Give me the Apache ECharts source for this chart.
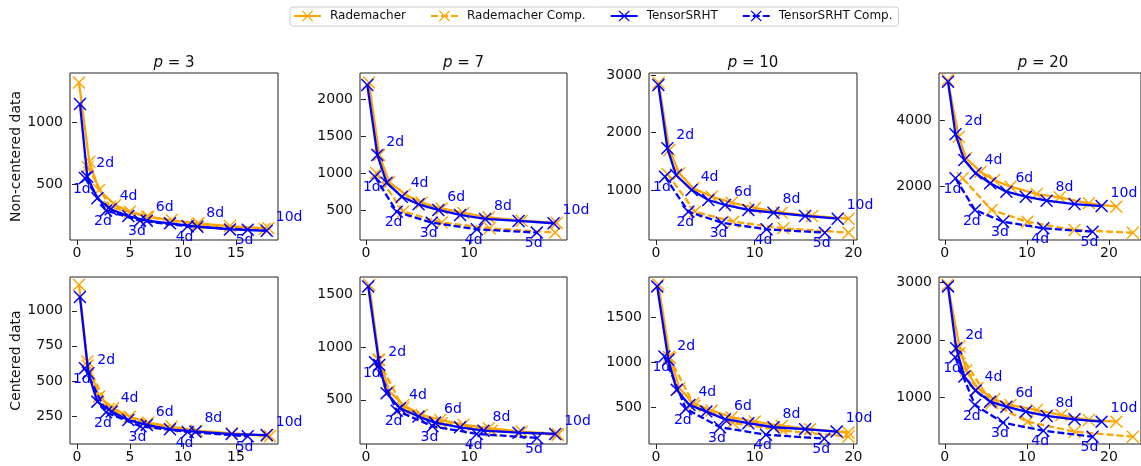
<!DOCTYPE html>
<html><head><meta charset="utf-8">
<script src="https://cdn.jsdelivr.net/npm/echarts@6/dist/echarts.min.js"></script>
<style>html,body{margin:0;padding:0;background:#fff}#c{width:1141px;height:466px}</style>
</head><body><div id="c"></div>
<script>
// ---------------- DATA ([x, y] pairs) ----------------
const SERIES_NAMES = ['Rademacher', 'Rademacher Comp.', 'TensorSRHT', 'TensorSRHT Comp.'];
const P_VALUES = ['3', '7', '10', '20'];
const ROW_NAMES = ['Non-centered data', 'Centered data'];

// Row 1: non-centered
const NC_P3_RAD   = [[0.19,1324],[1.16,683],[2.08,453],[3.6,332],[4.99,278],[6.73,237],[8.93,210],[11.45,183],[14.43,161],[18.05,143]];
const NC_P3_RADC  = [[1.0,640],[3.1,317],[6.6,237],[11.3,172],[17.7,137]];
const NC_P3_TS    = [[0.28,1151],[0.97,561],[1.92,386],[3.18,297],[4.84,242],[6.58,205],[8.77,183],[11.35,156],[14.43,134],[17.9,123]];
const NC_P3_TSC   = [[0.75,551],[2.74,286],[5.94,205],[10.44,159],[16.1,132]];

const NC_P7_RAD   = [[0.29,2226],[1.29,1245],[2.26,878],[3.79,710],[5.4,600],[7.35,520],[9.45,460],[11.9,400],[15.1,355],[18.5,325]];
const NC_P7_RADC  = [[1.0,1000],[3.62,480],[7.35,330],[12.0,252],[18.35,193]];
const NC_P7_TS    = [[0.13,2194],[1.1,1245],[2.0,870],[3.46,680],[5.1,577],[7.02,500],[9.13,432],[11.55,378],[14.8,351],[18.2,320]];
const NC_P7_TSC   = [[0.87,951],[2.98,477],[6.38,328],[10.75,238],[16.57,193]];

const NC_P10_RAD  = [[0.27,2866],[1.35,1696],[2.36,1290],[3.78,1029],[5.64,884],[7.66,780],[10.03,687],[12.73,605],[15.8,548],[19.5,501]];
const NC_P10_RADC = [[1.17,1278],[3.95,623],[7.83,449],[12.9,333],[19.5,258]];
const NC_P10_TS   = [[0.24,2826],[1.15,1725],[2.03,1261],[3.61,1000],[5.3,826],[6.99,739],[9.35,652],[11.9,605],[15.1,548],[18.4,501]];
const NC_P10_TSC  = [[0.91,1232],[3.28,623],[6.65,432],[11.2,316],[17.1,258]];

const NC_P20_RAD  = [[0.35,5200],[1.7,3498],[2.6,2850],[4.34,2450],[6.0,2199],[8.0,1998],[11.2,1779],[14.0,1680],[17.55,1500],[20.9,1398]];
const NC_P20_RADC = [[2.17,2250],[5.7,1300],[10.06,950],[15.8,700],[22.9,618]];
const NC_P20_TS   = [[0.39,5149],[1.3,3570],[2.37,2799],[3.75,2400],[5.52,2100],[7.5,1848],[9.86,1698],[12.4,1578],[15.8,1479],[19.1,1419]];
const NC_P20_TSC  = [[1.3,2250],[3.67,1300],[7.1,948],[12.0,750],[18.0,648]];

// Row 2: centered
const C_P3_RAD    = [[0.19,1186],[0.97,638],[2.08,388],[3.4,305],[4.99,245],[6.73,202],[8.93,174],[11.3,145],[14.6,126],[18.2,107]];
const C_P3_RADC   = [[1.0,610],[3.0,300],[6.6,195],[11.2,140],[17.9,108]];
const C_P3_TS     = [[0.28,1098],[1.07,555],[1.92,352],[3.27,281],[4.84,221],[6.58,186],[8.77,155],[11.17,138],[14.6,121],[17.9,114]];
const C_P3_TSC    = [[0.75,591],[2.74,276],[6.0,176],[10.44,136],[16.1,105]];

const C_P7_RAD    = [[0.32,1585],[1.29,878],[2.26,580],[3.62,452],[5.4,357],[7.2,310],[9.45,265],[11.9,232],[15.1,200],[18.6,178]];
const C_P7_RADC   = [[1.2,878],[3.6,421],[7.35,279],[12.2,209],[18.6,169]];
const C_P7_TS     = [[0.22,1571],[1.29,830],[2.0,563],[3.3,421],[5.1,342],[6.7,285],[9.13,241],[11.4,209],[14.8,190],[18.35,178]];
const C_P7_TSC    = [[0.87,856],[2.98,398],[6.45,251],[10.75,178],[16.6,140]];

const C_P10_RAD   = [[0.24,1860],[1.42,1047],[2.36,714],[3.78,548],[5.64,467],[7.66,394],[10.0,346],[12.73,298],[15.6,262],[19.5,225]];
const C_P10_RADC  = [[1.3,1060],[3.9,520],[7.8,330],[12.9,245],[19.5,180]];
const C_P10_TS    = [[0.12,1839],[1.25,1028],[2.1,696],[3.38,530],[5.1,456],[6.99,372],[9.35,328],[11.9,283],[15.1,262],[18.3,235]];
const C_P10_TSC   = [[0.85,1064],[3.03,486],[6.48,283],[11.14,201],[17.05,157]];

const C_P20_RAD   = [[0.35,2960],[1.78,1888],[2.6,1470],[3.99,1165],[6.0,971],[8.0,872],[11.2,785],[14.2,698],[17.55,611],[20.9,583]];
const C_P20_RADC  = [[1.78,1772],[5.7,902],[10.06,583],[15.8,409],[22.9,322]];
const C_P20_TS    = [[0.39,2931],[1.38,1859],[2.37,1365],[3.75,1122],[5.52,930],[7.5,843],[9.86,757],[12.4,682],[15.8,624],[19.1,583]];
const C_P20_TSC   = [[1.26,1700],[3.67,873],[7.1,565],[12.0,426],[18.0,322]];

// Tick labels
const X_TICKS = [[0,5,10,15],[0,10],[0,10,20],[0,10,20]];
const Y_TICKS = [[500,1000],[500,1000,1500,2000],[1000,2000,3000],[2000,4000],
                 [250,500,750,1000],[500,1000,1500],[500,1000,1500],[1000,2000,3000]];

// ---------------- LAYOUT ----------------
const PANELS = [
  [NC_P3_RAD, NC_P3_RADC, NC_P3_TS, NC_P3_TSC],
  [NC_P7_RAD, NC_P7_RADC, NC_P7_TS, NC_P7_TSC],
  [NC_P10_RAD, NC_P10_RADC, NC_P10_TS, NC_P10_TSC],
  [NC_P20_RAD, NC_P20_RADC, NC_P20_TS, NC_P20_TSC],
  [C_P3_RAD, C_P3_RADC, C_P3_TS, C_P3_TSC],
  [C_P7_RAD, C_P7_RADC, C_P7_TS, C_P7_TSC],
  [C_P10_RAD, C_P10_RADC, C_P10_TS, C_P10_TSC],
  [C_P20_RAD, C_P20_RADC, C_P20_TS, C_P20_TSC]
];
const COL_LEFT = [70, 360, 649, 939];
const COL_W = [208, 207, 208, 208];
const ROW_TOP = [73, 277];
const ROW_H = 167;
const X_RANGE = [[-0.66,18.96],[-0.58,19.5],[-0.71,20.36],[-0.71,23.9]];
const Y_RANGE = [[48,1402],[93,2356],[130,3035],[400,5409],[50,1241],[83,1660],[98,1943],[195,3094]];
const COLORS = ['#FFA500', '#FFA500', '#0000FF', '#0000FF'];
const DASHED = [false, true, false, true];
const XSYM = 'path://M0,0.8L0.8,0L5,4.2L9.2,0L10,0.8L5.8,5L10,9.2L9.2,10L5,5.8L0.8,10L0,9.2L4.2,5Z';
const FONT = 'DejaVu Sans';

const grids = [], xAxes = [], yAxes = [], series = [], graphics = [];
for (let i = 0; i < 8; i++) {
  const r = Math.floor(i / 4), c = i % 4;
  grids.push({left: COL_LEFT[c], top: ROW_TOP[r], width: COL_W[c], height: ROW_H,
    show: true, borderColor: '#222', borderWidth: 1, backgroundColor: 'transparent', containLabel: false});
  xAxes.push({type: 'value', gridIndex: i, min: X_RANGE[c][0], max: X_RANGE[c][1],
    axisLine: {show: false}, splitLine: {show: false},
    axisTick: {show: true, length: 5, lineStyle: {color: '#222'}, customValues: X_TICKS[c]},
    axisLabel: {fontFamily: FONT, fontSize: 14, color: '#111', margin: 6, customValues: X_TICKS[c], formatter: v => String(v)}});
  yAxes.push({type: 'value', gridIndex: i, min: Y_RANGE[i][0], max: Y_RANGE[i][1],
    axisLine: {show: false}, splitLine: {show: false},
    axisTick: {show: true, length: 5, lineStyle: {color: '#222'}, customValues: Y_TICKS[i]},
    axisLabel: {fontFamily: FONT, fontSize: 14, color: '#111', margin: 7, customValues: Y_TICKS[i], formatter: v => String(v)}});
  for (let s = 0; s < 4; s++) {
    const ser = {
      type: 'line', name: SERIES_NAMES[s], xAxisIndex: i, yAxisIndex: i,
      data: PANELS[i][s], symbol: XSYM, symbolSize: 13, showAllSymbol: true,
      lineStyle: {color: COLORS[s], width: 2.3, type: DASHED[s] ? [7, 3] : 'solid'},
      itemStyle: {color: COLORS[s]}, clip: true, z: 2 + s,
      emphasis: {disabled: true}, silent: true,
      label: {show: false}
    };
    if (s === 2) {
      ser.label = {show: true, position: 'inside', align: 'left', verticalAlign: 'middle',
        offset: [9, -13], color: '#0000FF', fontFamily: FONT, fontSize: 14,
        formatter: p => (p.dataIndex % 2 === 1 ? (p.dataIndex + 1) + 'd' : '')};
    } else if (s === 3) {
      ser.label = {show: true, position: 'inside', align: 'left', verticalAlign: 'middle',
        offset: [-12, 11], color: '#0000FF', fontFamily: FONT, fontSize: 14,
        formatter: p => (p.dataIndex + 1) + 'd'};
    }
    series.push(ser);
  }
  if (r === 0) {
    graphics.push({type: 'text', x: COL_LEFT[c] + COL_W[c] / 2, y: 63, silent: true,
      style: {text: '{i|p} = ' + P_VALUES[c], align: 'center', verticalAlign: 'middle',
        fontFamily: FONT, fontSize: 15, fill: '#111',
        rich: {i: {fontStyle: 'italic', fontFamily: FONT, fontSize: 15, fill: '#111'}}}});
  }
  if (c === 0) {
    graphics.push({type: 'text', x: 16, y: ROW_TOP[r] + ROW_H / 2, rotation: Math.PI / 2, silent: true,
      style: {text: ROW_NAMES[r], align: 'center', verticalAlign: 'middle',
        fontFamily: FONT, fontSize: 14, fill: '#111'}});
  }
}

const chart = echarts.init(document.getElementById('c'), null, {renderer: 'canvas'});
chart.setOption({
  animation: false,
  backgroundColor: '#fff',
  grid: grids, xAxis: xAxes, yAxis: yAxes, series: series, graphic: graphics,
  legend: {
    data: SERIES_NAMES, left: 290, top: 7, orient: 'horizontal',
    itemWidth: 27, itemHeight: 14, itemGap: 24,
    padding: [3, 6, 4, 3], borderColor: '#cccccc', borderWidth: 1, borderRadius: 3,
    backgroundColor: '#fff',
    textStyle: {fontFamily: FONT, fontSize: 12, color: '#111', padding: [0, 0, 0, 4]}
  }
});
</script></body></html>
